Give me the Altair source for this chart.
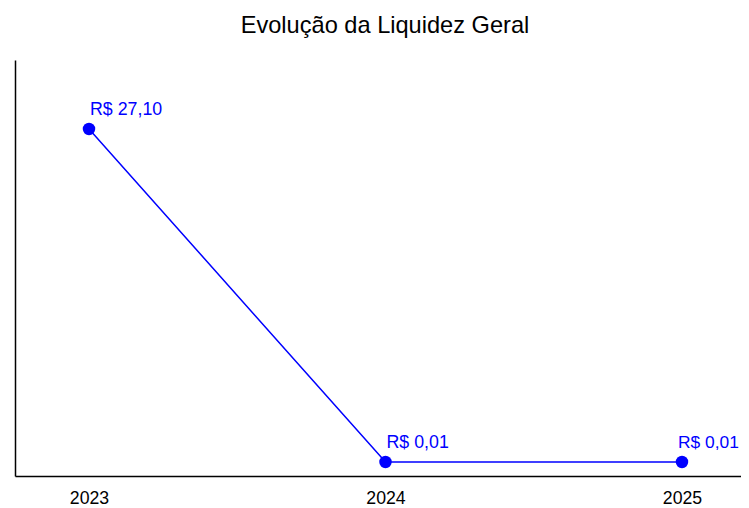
import altair as alt
import pandas as pd

years = [2023, 2024, 2025]
values = [27.10, 0.01, 0.01]
labels = ["R$ 27,10", "R$ 0,01", "R$ 0,01"]

df = pd.DataFrame({"ano": years, "valor": values, "rotulo": labels})

BLUE = "#0000FF"
FONT = "Liberation Sans"

x = alt.X("ano:Q",
          scale=alt.Scale(domain=[2022.7504, 2025.199], nice=False, zero=False),
          axis=alt.Axis(values=years, format="d", title=None, ticks=False, grid=False,
                        domainColor="black", domainWidth=1.5, labelFontSize=17.7,
                        labelColor="black", labelPadding=13, labelFont=FONT))
y = alt.Y("valor:Q",
          scale=alt.Scale(domain=[-1.129, 32.713], nice=False, zero=False),
          axis=alt.Axis(title=None, labels=False, ticks=False, grid=False,
                        domainColor="black", domainWidth=1.5))

base = alt.Chart(df).encode(x=x, y=y)

line = base.mark_line(color=BLUE, strokeWidth=1.5)
pts = base.mark_circle(color=BLUE, size=155, opacity=1)
txt = base.mark_text(color=BLUE, align="left", baseline="alphabetic", dx=1, dy=-14,
                     fontSize=17.8, font=FONT).encode(text="rotulo:N").transform_filter(
    alt.datum.ano < 2025)
txt_last = base.mark_text(color=BLUE, align="left", baseline="alphabetic", dx=-4, dy=-14,
                          fontSize=17.4, font=FONT).encode(text="rotulo:N").transform_filter(
    alt.datum.ano >= 2025)

chart = (line + pts + txt + txt_last).properties(
    width=726, height=416,
    title=alt.TitleParams("Evolução da Liquidez Geral", fontSize=23.6, font=FONT,
                          fontWeight="normal", color="black", anchor="middle",
                          dx=7, offset=22),
    autosize=alt.AutoSizeParams(type="none"),
    padding={"left": 7, "top": 52, "right": 0, "bottom": 34},
).configure_view(stroke=None)

chart.save("out.html", embed_options={"renderer": "svg", "actions": False})
